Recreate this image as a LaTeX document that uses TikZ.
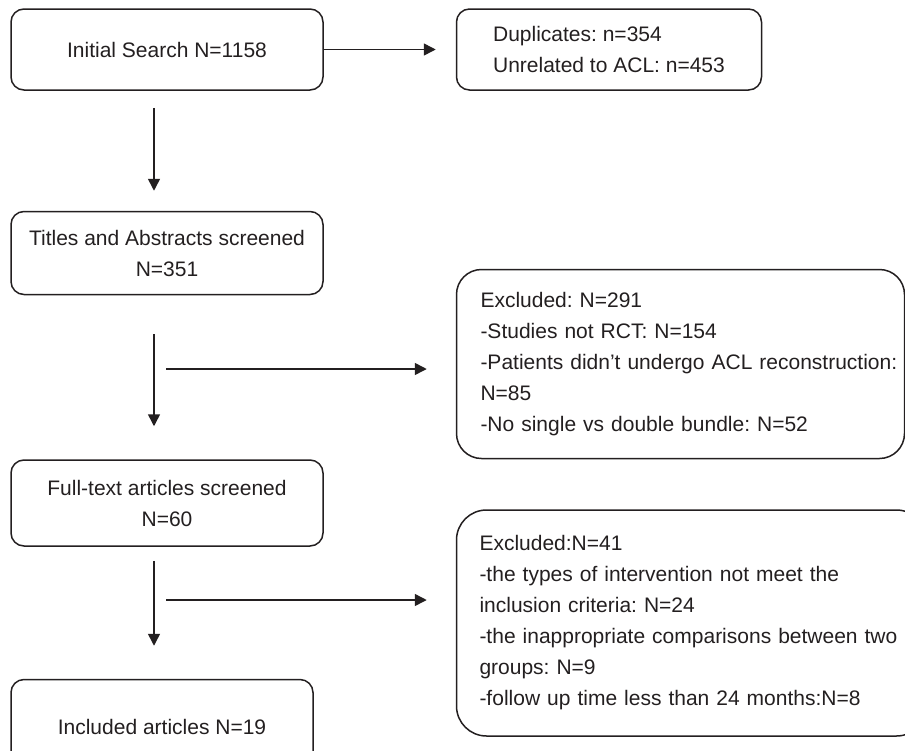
\documentclass[tikz,border=0pt]{standalone}
\usepackage{fontspec}
\setmainfont{Liberation Sans}
\usepackage{xcolor}
\usetikzlibrary{arrows.meta,positioning}
\definecolor{linecolor}{HTML}{231F20}
\frenchspacing

\begin{document}
\begin{tikzpicture}[
  font=\fontsize{10.5}{15.5}\selectfont,
  text=linecolor,
  flowbox/.style={rectangle, rounded corners=6.5pt, draw=linecolor, line width=0.75pt, minimum width=156pt, align=center, inner sep=0pt},
  notebox/.style={rectangle, rounded corners=6.5pt, draw=linecolor, line width=0.75pt, align=left},
  arrow/.style={-{Triangle[length=6pt,width=6pt]}, line width=0.75pt, linecolor}
]
\useasboundingbox (0,0) rectangle (452.5pt,-375pt);
\node[flowbox, minimum height=40.5pt] (init) at (83.5pt,-24.75pt) {Initial Search N=1158};
\node[flowbox, minimum height=41.5pt, below=60pt of init] (titles) {Titles and Abstracts screened\\N=351};
\node[flowbox, minimum height=43pt, below=82pt of titles] (fulltext) {Full-text articles screened\\N=60};
\node[flowbox, minimum width=151pt, minimum height=47pt, below=66pt of fulltext.south west, anchor=north west] (included) {Included articles N=19};
\node[notebox, inner xsep=17.5pt, minimum width=152.5pt, minimum height=40.5pt, right=66pt of init] (dup) {Duplicates: n=354\\Unrelated to ACL: n=453};
\node[notebox, rounded corners=12.5pt, text width=200pt, inner xsep=12pt, minimum height=94.5pt, below=89pt of dup.south west, anchor=north west] (excl1) {Excluded: N=291\\-Studies not RCT: N=154\\\mbox{-Patients didn’t undergo ACL reconstruction:}\\N=85\\-No single vs double bundle: N=52};
\node[notebox, rounded corners=15pt, text width=212pt, inner xsep=11.5pt, minimum height=113pt, below=25pt of excl1.south west, anchor=north west] (excl2) {Excluded:N=41\\-the types of intervention not meet the\\inclusion criteria: N=24\\-the inappropriate comparisons between two\\groups: N=9\\-follow up time less than 24 months:N=8};
\coordinate (split1) at (83pt,-184.5pt);
\coordinate (split2) at (83pt,-300pt);
\draw[arrow, shorten >=10pt] (init) -- (dup);
\draw[arrow, shorten <=8.5pt, shorten >=10pt] ([xshift=-6.5pt]init.south) -- ([xshift=-6.5pt]titles.north);
\draw[arrow, shorten <=19.5pt, shorten >=16.5pt] ([xshift=-6.5pt]titles.south) -- ([xshift=-6.5pt]fulltext.north);
\draw[arrow, shorten <=7pt, shorten >=16.5pt] ([xshift=-6.5pt]fulltext.south) -- ([xshift=-4pt]included.north);
\draw[arrow, shorten >=14.5pt] (split1) -- (split1 -| excl1.west);
\draw[arrow, shorten >=14.5pt] (split2) -- (split2 -| excl2.west);
\end{tikzpicture}
\end{document}
